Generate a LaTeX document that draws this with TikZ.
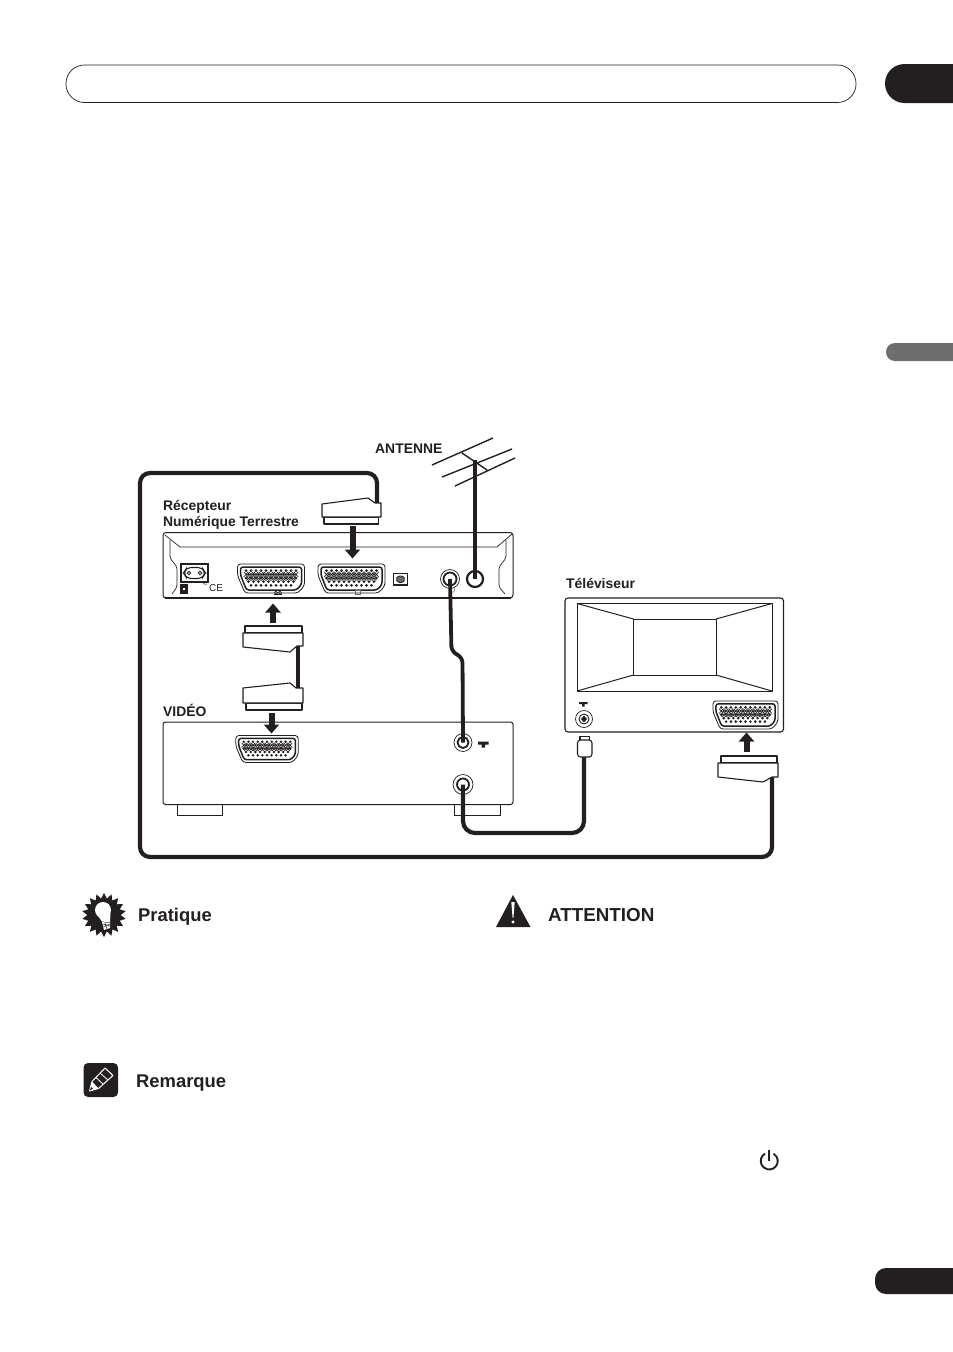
\documentclass[tikz,border=0pt]{standalone}
\usepackage{fontspec}
\setmainfont{Liberation Sans}
\usetikzlibrary{arrows.meta,shapes.geometric}
\definecolor{ink}{HTML}{231F20}
\definecolor{tabgrey}{HTML}{6D6D6D}
\tikzset{
  ln/.style={draw=ink,line width=1pt,line join=round},
  thinln/.style={draw=ink,line width=.7pt,line join=round},
  tab/.style={fill=ink,draw=none},
  cable/.style={draw=ink,line width=4.2pt,rounded corners=10pt,line cap=butt},
  plugbody/.style={draw=ink,line width=1.1pt,fill=white,line join=round},
  fatarrow/.style={draw=ink,line width=6pt,-{Triangle[length=9pt,width=15pt]}},
  lab/.style={anchor=base west,inner sep=0pt,text=ink,font=\fontsize{13.9}{16}\selectfont\bfseries},
  head/.style={anchor=base west,inner sep=0pt,text=ink,font=\fontsize{18.4}{20}\selectfont\bfseries},
  jackouter/.style={circle,draw=ink,line width=.7pt,fill=white,minimum size=#1,inner sep=0pt},
  jackinner/.style={circle,draw=ink,line width=1.8pt,fill=white,minimum size=#1,inner sep=0pt},
  scartport/.pic={
    \draw[draw=ink,line width=.8pt,fill=white,rounded corners=3pt]
      (-33.5,-14.5)--(33.5,-14.5)--(33.5,7)--(27,14.5)--(-26,14.5)--(-33.5,-3)--cycle;
    \draw[draw=ink,line width=1.5pt,fill=white,rounded corners=2.5pt]
      (-30.5,-11.5)--(30.5,-11.5)--(30.5,6)--(25.5,11.5)--(-24.5,11.5)--(-30.5,-3.5)--cycle;
    \foreach \i in {0,...,10}{
      \path[fill=ink] ({-25+\i*5},-7.8) circle[radius=1.5pt] ({-25+\i*5},-0.4) circle[radius=1.5pt];
      \draw[draw=ink,line width=.7pt] ({-27.2+\i*5},-6.6)--({-22.8+\i*5},-1.6) ({-22.8+\i*5},-6.6)--({-27.2+\i*5},-1.6);
    }
    \foreach \i in {0,...,9}{
      \path[fill=ink] ({-22.5+\i*5},-4.1) circle[radius=1.5pt] ({-22.5+\i*5},3.2) circle[radius=1.5pt];
      \draw[draw=ink,line width=.7pt] ({-24.7+\i*5},-2)--({-20.3+\i*5},2) ({-20.3+\i*5},-2)--({-24.7+\i*5},2);
    }
    \foreach \i in {0,...,8}{
      \path[fill=ink] ({-20+\i*5},6.8) circle[radius=1.5pt];
    }
  }
}
\begin{document}
\begin{tikzpicture}[x=1pt,y=-1pt]
\useasboundingbox[fill=white] (0,0) rectangle (953,1352);

% page furniture
\draw[draw=ink,line width=.7pt,rounded corners=18.5pt] (66,65) rectangle (856,102.5);
\fill[tab] (953,64) -- (904.5,64) arc[start angle=90,end angle=270,radius=19.5pt] -- (953,103) -- cycle;
\fill[fill=tabgrey] (953,343) -- (895,343) arc[start angle=90,end angle=270,radius=9pt] -- (953,361) -- cycle;
\fill[tab] (953,1268) -- (886,1268) arc[start angle=90,end angle=180,radius=11pt] -- (875,1283) arc[start angle=180,end angle=270,radius=11pt] -- (953,1294) -- cycle;

% named cable points
\coordinate (plugAtail) at (377,504);
\coordinate (loopNE) at (377,473);
\coordinate (loopNW) at (140,473);
\coordinate (loopSW) at (140,857);
\coordinate (loopSE) at (772,857);
\coordinate (plugDtail) at (772,776);
\coordinate (plugBtail) at (298,645);
\coordinate (plugCtail) at (298,689);
\coordinate (coaxNE) at (584,833);
\coordinate (coaxSW) at (463,833);
\coordinate (coaxTail) at (584,756);
\coordinate (mastTop) at (475,460);

% receiver
\draw[draw=ink,line width=1pt,fill=white,rounded corners=3pt] (163,532.5) rectangle (513,598);
\draw[draw=ink,line width=2.2pt] (165,598) -- (511,598);
\draw[thinln] (165,535) -- (180,547) -- (497,547) -- (512,534);
\draw[thinln,rounded corners=2pt] (170,540) -- (170,558) -- (177,567) -- (177,587) -- (172,594);
\draw[thinln,rounded corners=2pt] (506,540) -- (506,558) -- (499,567) -- (499,587) -- (505,594);

% mains socket
\draw[draw=ink,line width=1.2pt] (181,564) rectangle (208,582);
\draw[draw=ink,line width=1.1pt,rounded corners=4pt] (183.5,573) -- (187,567.5) -- (202,567.5) -- (205.5,573) -- (202,578.5) -- (187,578.5) -- cycle;
\draw[draw=ink,line width=.9pt] (189,573) circle[radius=1.7pt] (200,573) circle[radius=1.7pt];
\draw[draw=ink,fill=ink] (180.5,584.5) rectangle (187,593);
\fill[fill=white] (183,587.5) rectangle (185,590);
\node[inner sep=0pt,text=ink,font=\fontsize{9}{9}\selectfont] (tilde) at (205,585.5) {\textasciitilde};
\node[inner sep=0pt,text=ink,font=\fontsize{10}{10}\selectfont] (ce) at (216,588.5) {CE};

% receiver scarts
\pic at (271,578.5) {scartport};
\pic at (351.5,578.5) {scartport};
\draw[draw=ink,line width=1.1pt,fill=white] (393.5,573.5) rectangle (407.5,585);
\draw[draw=ink,fill=tabgrey,line width=.9pt,rounded corners=1.5pt] (396,579) -- (398,576) -- (403,576) -- (405,579) -- (403,582.5) -- (398,582.5) -- cycle;

% small marks under the receiver ports
\draw[draw=ink,line width=.7pt] (276,592.5) circle[radius=1.5pt] (280,592.5) circle[radius=1.5pt];
\draw[draw=ink,line width=.8pt] (274,594.5) -- (282,594.5);
\draw[draw=tabgrey,line width=.5pt] (355,590.5) rectangle (360,594);
\draw[draw=tabgrey,line width=.5pt,rounded corners=1pt] (450,587) rectangle (454.5,592);

% receiver jacks
\node[jackouter=19pt] (jackRo) at (450,579) {};
\node[jackinner=13pt] (jackR) at (450,579) {};
\node[circle,draw=ink,line width=2.2pt,fill=white,minimum size=16pt,inner sep=0pt] (jackAnt) at (475,579) {};

% video recorder
\draw[draw=ink,line width=.9pt,fill=white] (177,804) rectangle (222,815);
\draw[draw=ink,line width=.9pt,fill=white] (454,804) rectangle (500,815);
\draw[draw=ink,line width=1pt,fill=white,rounded corners=2.5pt] (163,722) rectangle (513,804.5);
\pic[scale=.93] at (267,749) {scartport};
\node[jackouter=18pt] (jackVo) at (463,742.5) {};
\node[jackinner=11pt] (jackV) at (463,742.5) {};
\node[jackouter=20pt] (jackWo) at (463,784.5) {};
\node[jackinner=12pt] (jackW) at (463,784.5) {};
\fill[fill=ink] (478,741.5) rectangle (488.5,744.5) (481.5,744.5) rectangle (485,747.5);

% TV
\draw[draw=ink,line width=1.1pt,fill=white,rounded corners=3pt] (565,598) rectangle (783.5,732);
\draw[ln] (577,603.5) rectangle (772,691);
\draw[ln] (633.5,619) rectangle (716,675);
\draw[ln] (577,603.5) -- (633.5,619) (772,603.5) -- (716,619) (577,691) -- (633.5,675) (772,691) -- (716,675);
\node[jackouter=17pt] (jackTVo) at (584,719) {};
\node[circle,draw=ink,line width=.9pt,minimum size=10pt,inner sep=0pt] (jackTV) at (584,719) {};
\fill[fill=ink] (584,715.5) -- (587,719) -- (584,722.5) -- (581,719) -- cycle;
\fill[fill=ink] (579,702) rectangle (587.5,704) (582,704) rectangle (584.5,706.5);
\pic[scale=.97] at (745.5,715) {scartport};

% cables
\draw[cable] (plugAtail) -- (loopNE) -- (loopNW) -- (loopSW) -- (loopSE) -- (plugDtail);
\draw[draw=ink,line width=4pt] (plugBtail) -- (plugCtail);
\draw[draw=ink,line width=3.8pt,rounded corners=6pt] (jackR.center) -- (451.5,652) -- (462.5,657) -- (jackV.center);
\draw[cable,rounded corners=12pt] (jackW.center) -- (coaxSW) -- (coaxNE) -- (coaxTail);
\draw[draw=ink,line width=3.8pt] (jackAnt.center) -- (mastTop);

% antenna
\draw[draw=ink,line width=1.4pt] (432,465) -- (493,438) (442,477) -- (512,449) (455,486) -- (515,458) (462,453) -- (487,470);

% plugs
\draw[plugbody] (324,517) rectangle (378.5,524);
\draw[plugbody] (322,504) -- (368,498) -- (375,503) -- (381,503) -- (381,517) -- (322,517) -- cycle;
\draw[plugbody] (245,626) rectangle (302,633);
\draw[plugbody] (243,633) -- (303,633) -- (303,646) -- (297,646) -- (290,652) -- (243,647) -- cycle;
\draw[plugbody] (246,703) rectangle (302,710);
\draw[plugbody] (243,688) -- (290,683) -- (296,688) -- (303,688) -- (303,703) -- (243,703) -- cycle;
\draw[plugbody] (721,756) rectangle (777,763);
\draw[plugbody] (718,763) -- (778,763) -- (778,777) -- (772,777) -- (763,782) -- (718,777) -- cycle;
\draw[plugbody] (580,736.5) rectangle (589.5,741);
\draw[plugbody,rounded corners=3pt] (577.5,740) -- (592,740) -- (592,757) -- (577.5,757) -- cycle;

% arrows
\coordinate (arrAs) at (352.5,526);
\coordinate (arrAe) at (352.5,558.5);
\coordinate (arrBs) at (273,623);
\coordinate (arrBe) at (273,603.5);
\coordinate (arrCs) at (271.5,713);
\coordinate (arrCe) at (271.5,733.5);
\coordinate (arrDs) at (746.5,752);
\coordinate (arrDe) at (746.5,732.5);
\draw[fatarrow] (arrAs) -- (arrAe);
\draw[fatarrow] (arrBs) -- (arrBe);
\draw[fatarrow] (arrCs) -- (arrCe);
\draw[fatarrow] (arrDs) -- (arrDe);

% labels
\node[lab] (antenne) at (375,453) {ANTENNE};
\node[lab] (recep) at (163,510) {Récepteur};
\node[lab] (numer) at (163,526) {Numérique Terrestre};
\node[lab] (video) at (163,716.5) {VIDÉO};
\node[lab] (televiseur) at (566,588.5) {Téléviseur};

% Pratique
\node[star,star points=18,star point ratio=1.32,fill=ink,draw=none,minimum size=44pt,inner sep=0pt] (burst) at (104,915) {};
\fill[fill=white] (103,910) circle[radius=8pt];
\fill[fill=white] (96,913) -- (102,921.5) -- (110,922.5) -- (110.5,913) -- cycle;
\fill[fill=white] (102,922) -- (110,923) -- (110,928) -- (104,930) -- cycle;
\draw[draw=ink,line width=.5pt] (102.5,924) -- (110,926) (103,927) -- (110,924) (105,922.5) -- (107,929);
\node[head] (pratique) at (138,921) {Pratique};

% Attention
\fill[fill=ink] (513,895) -- (530.5,927) -- (496,927) -- cycle;
\fill[fill=white] (511.3,902) -- (514.7,902) -- (513.4,918) -- (512.6,918) -- cycle;
\fill[fill=white] (513,922) circle[radius=1.6pt];
\node[head,font=\fontsize{18.8}{20}\selectfont\bfseries] (attention) at (548,921.5) {ATTENTION};

% Remarque
\fill[fill=ink,rounded corners=4.5pt] (83.5,1063) rectangle (118,1097);
\draw[draw=white,line width=1pt,line join=round] (89.5,1091) -- (92,1081.5) -- (105,1068) -- (113,1075.5) -- (98.5,1088.5) -- cycle;
\draw[draw=white,line width=.8pt] (96,1077.5) -- (103,1084) (100,1073) -- (108,1080);
\fill[fill=white] (92,1081.5) -- (98.5,1088.5) -- (89.5,1091) -- cycle;
\fill[fill=ink] (91,1087) -- (93,1088.5) -- (89.8,1090.7) -- cycle;
\node[head] (remarque) at (136,1087) {Remarque};

% power symbol
\draw[draw=ink,line width=1.9pt] (765,1153.6) arc[start angle=120,end angle=420,radius=8.5pt];
\draw[draw=ink,line width=1.9pt] (769,1149.5) -- (769,1161);
\end{tikzpicture}
\end{document}
